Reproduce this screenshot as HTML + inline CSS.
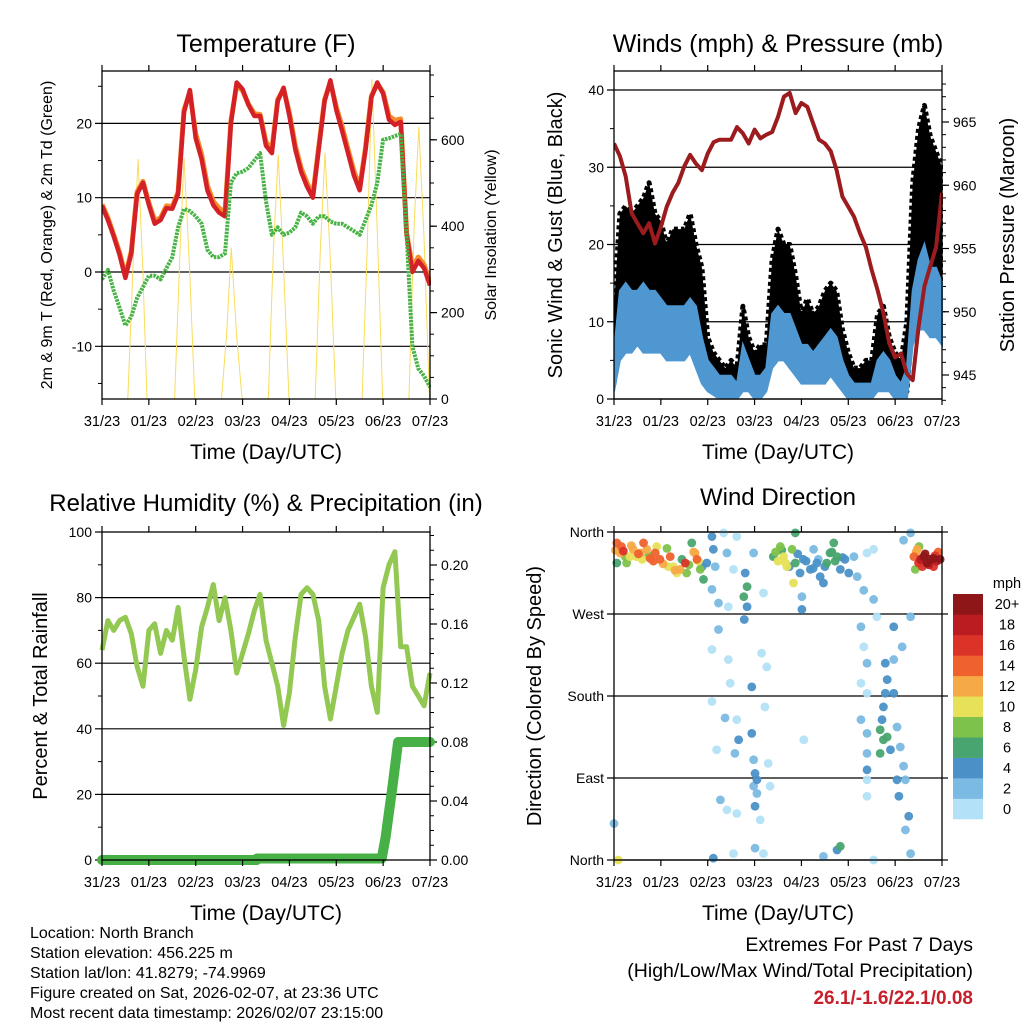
<!DOCTYPE html>
<html><head><meta charset="utf-8"><style>
html,body{margin:0;padding:0;background:#fff;}
svg{display:block;font-family:"Liberation Sans",Arial,sans-serif;}
</style></head><body>
<svg id="chart" xmlns="http://www.w3.org/2000/svg" width="1024" height="1024" viewBox="0 0 1024 1024">
<rect width="1024" height="1024" fill="#fff"/>
<text x="266" y="52" font-size="25" text-anchor="middle">Temperature (F)</text>
<text x="778" y="52" font-size="25" text-anchor="middle">Winds (mph) &amp; Pressure (mb)</text>
<text x="266" y="511" font-size="24" text-anchor="middle">Relative Humidity (%) &amp; Precipitation (in)</text>
<text x="778" y="505" font-size="24" text-anchor="middle">Wind Direction</text>
<text x="266" y="459" font-size="21" text-anchor="middle">Time (Day/UTC)</text>
<text x="778" y="459" font-size="21" text-anchor="middle">Time (Day/UTC)</text>
<text x="266" y="920" font-size="21" text-anchor="middle">Time (Day/UTC)</text>
<text x="778" y="920" font-size="21" text-anchor="middle">Time (Day/UTC)</text>
<text transform="translate(52,235) rotate(-90)" font-size="16" text-anchor="middle">2m &amp; 9m T (Red, Orange) &amp; 2m Td (Green)</text>
<text transform="translate(496,235) rotate(-90)" font-size="16" text-anchor="middle">Solar Insolation (Yellow)</text>
<text transform="translate(562,235) rotate(-90)" font-size="20" text-anchor="middle">Sonic Wind &amp; Gust (Blue, Black)</text>
<text transform="translate(1014,235) rotate(-90)" font-size="20" text-anchor="middle">Station Pressure (Maroon)</text>
<text transform="translate(47,696) rotate(-90)" font-size="20" text-anchor="middle">Percent &amp; Total Rainfall</text>
<text transform="translate(541,696) rotate(-90)" font-size="20" text-anchor="middle">Direction (Colored By Speed)</text>
<g font-size="16">
<text x="30" y="938">Location: North Branch</text>
<text x="30" y="958">Station elevation: 456.225 m</text>
<text x="30" y="978">Station lat/lon: 41.8279; -74.9969</text>
<text x="30" y="998">Figure created on Sat, 2026-02-07, at 23:36 UTC</text>
<text x="30" y="1018">Most recent data timestamp: 2026/02/07 23:15:00</text>
</g>
<text x="973" y="951" font-size="19.5" text-anchor="end">Extremes For Past 7 Days</text>
<text x="973" y="977" font-size="19.5" text-anchor="end">(High/Low/Max Wind/Total Precipitation)</text>
<text x="973" y="1004" font-size="19" font-weight="bold" fill="#c8202a" text-anchor="end">26.1/-1.6/22.1/0.08</text>
</svg>
<script>
// ---- data (t in days since 31/23) ----
const dayLabels = ["31/23","01/23","02/23","03/23","04/23","05/23","06/23","07/23"];
const sampleHours = [0,3,6,9,12,15,18,21,24,27,30,33,36,39,42,45,48,51,54,57,60,63,66,69,72,75,78,81,84,87,90,93,96,99,102,105,108,111,114,117,120,123,126,129,132,135,138,141,144,147,150,153,156,159,162,165,168];
const temp2m = [8.9,7.0,4.8,2.3,-0.8,2.5,10.5,12.0,9.0,6.5,7.0,8.6,8.5,10.5,21.5,24.5,18.0,15.2,11.0,9.0,8.0,7.5,20.0,25.5,24.6,22.5,21.0,21.0,17.0,16.0,23.0,24.8,21.0,16.5,13.5,11.5,10.0,16.5,23.0,25.8,21.8,19.0,16.0,13.0,11.0,16.5,23.5,25.5,24.0,20.5,19.8,20.2,5.0,0.0,1.5,0.5,-1.8];
const temp9m = [9.1,7.3,5.0,2.6,-0.5,2.8,10.8,12.2,9.3,6.9,7.3,8.9,8.8,10.8,21.8,24.2,18.6,15.8,11.6,9.5,8.6,8.0,20.3,25.2,24.4,22.6,21.3,21.2,17.5,16.5,23.2,24.6,21.4,17.0,14.0,12.0,10.4,16.8,23.2,25.5,22.2,19.6,16.5,13.6,11.4,16.8,23.7,25.3,24.2,21.0,20.4,20.6,5.3,0.6,2.0,1.0,-1.4];
const dewpoint = [-1.0,0.3,-2.5,-4.8,-7.2,-6.0,-3.5,-2.0,-0.5,-0.5,-1.0,0.5,2.0,6.0,8.5,8.2,7.5,6.5,3.0,2.0,2.0,2.5,12.0,13.3,13.5,14.0,15.0,16.0,9.5,5.0,6.0,5.0,5.3,6.0,8.0,7.5,6.5,7.5,7.5,6.8,6.5,6.5,6.0,5.5,5.0,7.0,9.0,12.0,17.8,18.0,18.3,18.6,5.0,-10.0,-13.0,-14.0,-15.5];
const solarDays = [0.55,0.66,0.77,0.87,0.96, 1.55,1.66,1.75,1.87,1.98, 2.55,2.66,2.76,2.87,2.99, 3.55,3.66,3.76,3.87,3.99, 4.55,4.66,4.76,4.87,4.99, 5.55,5.66,5.76,5.87,5.99, 6.55,6.66,6.76,6.87,6.99];
const solarVals = [0,300,555,300,0, 0,330,558,300,0, 0,150,350,150,0, 0,350,566,320,0, 0,350,570,330,0, 0,350,740,400,0, 0,400,630,380,0];
const pressure = [963.3,962.3,960.7,957.8,957.0,956.2,957.0,955.4,956.7,958.3,959.4,960.2,961.5,962.4,961.7,961.2,962.5,963.4,963.6,963.6,963.6,964.6,964.1,963.3,964.4,963.7,964.0,964.2,965.4,967.0,967.3,965.7,966.5,966.2,964.9,963.6,963.3,962.7,961.2,959.1,958.3,957.5,956.2,955.1,953.3,951.7,949.9,947.5,946.4,946.7,945.1,944.6,948.8,952.0,953.6,955.1,959.4];
const gustLow = [2,8,9,9,10,10,9,9,10,9,8,8,9,9,7,5,2,1,1,1,1,1,3,2,1,2,2,6,8,8,7,5,3,4,3,3,4,5,4,2,1,1,0.5,0.5,1,3,3,2,1,1,1,10,12,12,11,10,10];
const gustHigh = [12,24,25,24,25,26,28,24,23,20,22,22,22,24,20,17,8,6,5,4,5,4,12,8,6,7,7,18,22,20,20,16,11,13,11,12,14,15,14,9,6,4,4,5,5,11,12,8,6,5,10,28,35,38,34,32,30];
const windLow = [1,5,6,6,7,6,6,6,6,5,5,5,5,6,4,2,1,0.5,0,0,0,0,1,1,0,0,1,4,5,5,4,3,2,2,2,2,2,3,2,1,0,0,0,0,0,1,1,1,0,0,0,7,9,9,8,8,7];
const windHigh = [6,14,15,14,14,15,14,14,13,12,12,12,12,13,12,8,5,4,3,3,3,2,7,5,3,3,4,11,12,11,11,9,7,7,6,7,8,9,8,5,3,2,2,2,2,5,6,5,3,2,4,14,18,20,17,17,15];
const relHum = [64,73,70,73,74,69,59,53,70,72,63,70,67,77,62,49,58,71,77,84,73,80,70,57,63,69,76,81,67,60,53,41,51,68,81,83,81,73,53,43,53,63,70,74,78,68,53,45,83,90,94,65,65,53,50,47,57];
const rainDays = [0,3.3,3.31,5.97,6.05,6.2,6.32,7];
const rainVals = [0,0,0.001,0.001,0.015,0.05,0.08,0.08];
const dirDays = [0.06,0.13,0.2,0.27,0.41,0.48,0.63,0.7,0.77,0.88,0.98,1.13,1.2,1.27,1.41,1.55,1.66,1.73,1.77,1.84,1.91,1.98,0.06,0.34,0.56,0.91,1.34,1.52,
2.09,2.12,2.16,2.09,2.23,2.41,2.34,2.44,2.55,2.23,2.09,2.44,2.48,2.09,2.37,2.62,2.66,2.58,2.19,2.27,2.41,2.62,2.12,2.55,2.8,2.84,2.77,2.84,2.78,2.94,2.94,2.98,3.01,3.05,2.98,3.05,3.01,3.12,3.01,3.19,3.15,3.26,3.22,3.29,3.33,2.98,3.19,2.62,
3.4,3.55,3.62,3.69,3.8,3.87,3.97,4.04,4.19,4.33,4.4,4.54,4.61,4.69,4.76,4.83,4.93,5.01,3.83,4.01,4.01,3.87,4.26,4.47,4.05,4.83,4.76,4.47,
5.12,5.19,5.33,5.4,5.54,5.54,5.61,5.27,5.33,5.4,5.27,5.4,5.27,5.4,5.4,5.4,5.4,5.4,5.54,5.79,5.83,5.79,5.75,5.72,5.68,5.75,5.83,5.68,5.9,5.97,5.97,5.97,6.04,6.11,6.04,6.18,6.08,6.22,6.29,6.22,6.33,6.15,6.33,6.33,6.18,
6.4,6.47,6.5,6.54,6.61,6.68,6.75,6.82,6.89,6.96,6.43,6.51,6.58,6.82,0.0,0.09,
0.03,0.16,0.24,0.37,0.52,0.6,0.74,0.84,1.05,1.16,1.3,1.45,1.6,1.7,1.8,1.88,3.45,3.5,3.58,3.66,3.74,3.92,4.1,4.25,4.36,4.5,4.65,4.72,4.88,6.45,6.55,6.64,6.72,6.85,6.92];
const dirDeg = [348,337,339,326,341,333,348,341,331,337,330,342,333,322,319,315,348,337,330,319,308,326,326,333,337,344,315,326,
355,341,322,297,282,337,359,278,319,253,231,220,194,174,156,154,132,117,121,66,55,51,2,7,315,300,289,278,264,190,139,110,95,88,81,73,59,44,13,7,227,212,168,106,81,337,293,355,
333,344,333,322,341,326,315,330,319,326,311,326,337,348,333,319,330,315,304,289,275,359,341,304,132,15,11,4,
333,311,296,337,341,286,267,256,234,216,194,183,154,139,117,99,88,70,0,216,198,183,168,154,143,132,135,117,121,183,256,220,146,124,88,103,70,88,48,33,7,234,267,359,351,
333,341,326,330,333,326,330,331,328,330,319,344,322,322,40,0,
340,344,333,345,336,330,334,328,325,322,318,330,324,338,328,322,338,328,340,326,322,336,328,320,330,322,338,328,332,338,328,336,324,334,338];
const dirSpeed = [14,12,16,8,12,10,14,12,14,14,14,8,14,10,12,8,6,12,14,8,6,4,6,10,12,10,10,16,
4,4,2,2,2,2,0,0,0,2,0,0,0,0,2,0,4,2,0,2,0,0,4,0,4,6,6,4,4,4,4,2,4,4,2,2,4,0,2,0,0,0,0,0,0,2,0,0,
6,8,10,10,8,6,4,4,4,4,4,6,6,6,6,4,4,4,10,2,4,6,2,4,0,6,4,2,
2,2,2,0,0,2,0,2,0,2,0,0,2,2,2,4,0,0,0,4,4,4,4,4,6,6,6,6,4,4,4,2,2,2,4,2,4,2,4,2,2,2,2,2,2,
14,12,16,18,20,22,20,22,18,20,8,8,16,16,2,10,
12,14,8,12,14,10,8,14,12,10,12,6,8,12,10,4,8,10,6,10,4,4,4,4,2,4,6,6,4,12,16,20,18,16,14];
const speedLabels = ["0","2","4","6","8","10","12","14","16","18","20+"];
const speedColors = ["#b3e1f7","#7bbae3","#4b91c8","#49a56f","#7dc24a","#e6e159","#f6aa47","#ef622e","#dc3328","#bb1c22","#8f1618"];
const compassLabels = ["North","East","South","West","North"];

const NS = "http://www.w3.org/2000/svg";
const svg = document.getElementById("chart");
function mk(parent, tag, attrs, name) {
  const el = document.createElementNS(NS, tag);
  for (const k in attrs) el.setAttribute(k, attrs[k]);
  
  
  parent.appendChild(el);
  return el;
}
function txt(parent, x, y, s, size, anchor, name) {
  const t = mk(parent, "text", {x: x, y: y, "font-size": size, "text-anchor": anchor}, name);
  t.textContent = s;
  return t;
}
function panel(x0, x1, y0, y1, name) {
  const g = mk(svg, "g", {}, name);
  const xs = d => x0 + (x1 - x0) * d / 7;
  return {g, x0, x1, y0, y1, xs};
}
function timeAxis(P, prefix) {
  for (let i = 0; i < dayLabels.length; i++) {
    const x = P.xs(i);
    mk(P.g, "line", {x1: x, x2: x, y1: P.y1, y2: P.y1 + 6, stroke: "#000", "stroke-width": 1.2}, prefix + "-x-tick");
    mk(P.g, "line", {x1: x, x2: x, y1: P.y0, y2: P.y0 - 6, stroke: "#000", "stroke-width": 1.2}, prefix + "-top-tick");
    txt(P.g, x, P.y1 + 27, dayLabels[i], 14.5, "middle", prefix + "-x-label");
  }
}
function frame(P, prefix) {
  mk(P.g, "rect", {x: P.x0, y: P.y0, width: P.x1 - P.x0, height: P.y1 - P.y0, fill: "none", stroke: "#000", "stroke-width": 1.3}, prefix + "-frame");
}
function leftAxis(P, ys, vals, labels, minors, grid, prefix) {
  for (let i = 0; i < vals.length; i++) {
    const y = ys(vals[i]);
    mk(P.g, "line", {x1: P.x0 - 7, x2: grid ? P.x1 : P.x0, y1: y, y2: y, stroke: "#000", "stroke-width": 1.2}, prefix + "-gridline");
    txt(P.g, P.x0 - 10, y + 5, labels[i], 14, "end", prefix + "-y-label");
  }
  for (const v of minors) {
    const y = ys(v);
    mk(P.g, "line", {x1: P.x0 - 4, x2: P.x0, y1: y, y2: y, stroke: "#000", "stroke-width": 1}, prefix + "-minor-tick");
  }
}
function rightAxis(P, ys, vals, labels, minors, prefix) {
  for (let i = 0; i < vals.length; i++) {
    const y = ys(vals[i]);
    mk(P.g, "line", {x1: P.x1, x2: P.x1 + 7, y1: y, y2: y, stroke: "#000", "stroke-width": 1.2}, prefix + "-right-tick");
    txt(P.g, P.x1 + 11, y + 5, labels[i], 14, "start", prefix + "-right-label");
  }
  for (const v of minors) {
    const y = ys(v);
    mk(P.g, "line", {x1: P.x1, x2: P.x1 + 4, y1: y, y2: y, stroke: "#000", "stroke-width": 1}, prefix + "-right-minor");
  }
}
function range(a, b, s) { const r = []; for (let v = a; v <= b + 1e-9; v += s) r.push(+v.toFixed(4)); return r; }
function pathFrom(xsArr, ysArr) { return xsArr.map((x, i) => (i ? "L" : "M") + x.toFixed(1) + "," + ysArr[i].toFixed(1)).join(""); }
function band(xsArr, lo, hi) {
  let d = "M" + xsArr.map((x, i) => x.toFixed(1) + "," + hi[i].toFixed(1)).join("L");
  for (let i = xsArr.length - 1; i >= 0; i--) d += "L" + xsArr[i].toFixed(1) + "," + lo[i].toFixed(1);
  return d + "Z";
}
function clip(P, id) {
  const defs = mk(svg, "defs", {}, id + "-defs");
  const cp = mk(defs, "clipPath", {id: id}, id);
  mk(cp, "rect", {x: P.x0, y: P.y0 - 4, width: P.x1 - P.x0 + 1, height: P.y1 - P.y0 + 4}, id + "-rect");
  return mk(P.g, "g", {"clip-path": "url(#" + id + ")"}, id + "-series");
}
const days = sampleHours.map(h => h / 24);

// ---- Panel 1: temperature ----
const P1 = panel(102, 430, 71, 399, "temperature-panel");
const yT = v => 272 - v * 7.43;
const yS = v => 399 - v * 0.432;
leftAxis(P1, yT, [-10, 0, 10, 20], ["-10", "0", "10", "20"], [-15, -5, 5, 15, 25], true, "temp");
rightAxis(P1, yS, [0, 200, 400, 600], ["0", "200", "400", "600"], range(0, 750, 50), "solar");
const g1 = clip(P1, "clip-temp");
mk(g1, "path", {d: pathFrom(solarDays.map(P1.xs), solarVals.map(yS)), fill: "none", stroke: "#f9dc5c", "stroke-width": 1}, "solar-line");
mk(g1, "path", {d: pathFrom(days.map(P1.xs), temp9m.map(yT)), fill: "none", stroke: "#f58b2a", "stroke-width": 5, "stroke-linejoin": "round"}, "temp-9m-line");
mk(g1, "path", {d: pathFrom(days.map(P1.xs), temp2m.map(yT)), fill: "none", stroke: "#d42027", "stroke-width": 4.5, "stroke-linejoin": "round"}, "temp-2m-line");
mk(g1, "path", {d: pathFrom(days.map(P1.xs), dewpoint.map(yT)), fill: "none", stroke: "#48b345", "stroke-width": 4, "stroke-dasharray": "2.5 1", "stroke-linejoin": "round"}, "dewpoint-line");
frame(P1, "temp");
timeAxis(P1, "temp");

// ---- Panel 2: winds ----
const P2 = panel(614, 942, 71, 399, "winds-panel");
const yW = v => 399 - v * 7.725;
const yP = v => 375 - (v - 945) * 12.65;
leftAxis(P2, yW, [0, 10, 20, 30, 40], ["0", "10", "20", "30", "40"], [5, 15, 25, 35], true, "wind");
rightAxis(P2, yP, [945, 950, 955, 960, 965], ["945", "950", "955", "960", "965"], range(943, 968, 1), "pressure");
const g2 = clip(P2, "clip-wind");
const dx2 = days.map(P2.xs);
mk(g2, "path", {d: band(dx2, gustLow.map(yW), gustHigh.map(yW)), fill: "#000", stroke: "#000", "stroke-width": 5, "stroke-linejoin": "round", "stroke-dasharray": "4 3"}, "gust-band");
mk(g2, "path", {d: band(dx2, windLow.map(yW), windHigh.map(yW)), fill: "#4f97d1", stroke: "#4f97d1", "stroke-width": 2}, "wind-band");
mk(g2, "path", {d: pathFrom(dx2, pressure.map(yP)), fill: "none", stroke: "#9b1b1e", "stroke-width": 4, "stroke-linejoin": "round"}, "pressure-line");
frame(P2, "wind");
timeAxis(P2, "wind");

// ---- Panel 3: RH & rain ----
const P3 = panel(102, 430, 532, 860, "humidity-panel");
const yH = v => 860 - v * 3.28;
const yR = v => 860 - v * 1475;
leftAxis(P3, yH, [0, 20, 40, 60, 80, 100], ["0", "20", "40", "60", "80", "100"], [10, 30, 50, 70, 90], false, "rh");
for (const v of [20, 40, 60, 80]) mk(P3.g, "line", {x1: P3.x0, x2: P3.x1, y1: yH(v), y2: yH(v), stroke: "#000", "stroke-width": 1.2}, "rh-gridline");
rightAxis(P3, yR, [0, 0.04, 0.08, 0.12, 0.16, 0.2], ["0.00", "0.04", "0.08", "0.12", "0.16", "0.20"], range(0, 0.22, 0.01), "rain");
const g3 = mk(P3.g, "g", {}, "rh-series");
mk(g3, "path", {d: pathFrom(days.map(P3.xs), relHum.map(yH)), fill: "none", stroke: "#93c852", "stroke-width": 5, "stroke-linejoin": "round"}, "rh-line");
mk(g3, "path", {d: pathFrom(rainDays.map(P3.xs), rainVals.map(yR)), fill: "none", stroke: "#47b047", "stroke-width": 10, "stroke-linejoin": "round", "stroke-linecap": "round"}, "rain-line");
frame(P3, "rh");
timeAxis(P3, "rh");

// ---- Panel 4: wind direction ----
const P4 = panel(614, 942, 532, 860, "direction-panel");
const yD = v => 860 - v * 0.9111;
leftAxis(P4, yD, [0, 90, 180, 270, 360], compassLabels, [], true, "dir");
for (const v of [0, 90, 180, 270, 360]) mk(P4.g, "line", {x1: P4.x1, x2: P4.x1 + 6, y1: yD(v), y2: yD(v), stroke: "#000", "stroke-width": 1.2}, "dir-right-tick");
const g4 = mk(P4.g, "g", {}, "dir-points");
const order = dirSpeed.map((s, i) => i).sort((a, b) => dirSpeed[a] - dirSpeed[b]);
for (const i of order) {
  const ci = Math.min(10, Math.floor(dirSpeed[i] / 2));
  const c = mk(g4, "circle", {cx: P4.xs(dirDays[i]), cy: yD(dirDeg[i]), r: 4.4, fill: speedColors[ci], opacity: 0.95}, "dir-point");
}
frame(P4, "dir");
timeAxis(P4, "dir");

// colorbar
const cb = mk(svg, "g", {}, "speed-colorbar");
txt(cb, 1007, 588, "mph", 14.5, "middle", "colorbar-unit");
const boxH = 225 / speedColors.length;
for (let i = 0; i < speedColors.length; i++) {
  const y = 819 - (i + 1) * boxH;
  mk(cb, "rect", {x: 953, y: y, width: 30, height: boxH + 0.3, fill: speedColors[i]}, "colorbar-box");
  txt(cb, 1007, y + boxH / 2 + 5, speedLabels[i], 14.5, "middle", "colorbar-label");
}
</script>
</body></html>
